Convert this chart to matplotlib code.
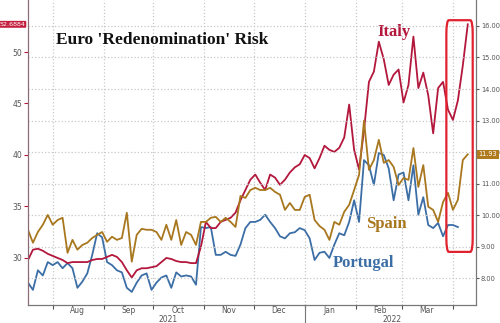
import pandas as pd
import matplotlib.pyplot as plt
import matplotlib.dates as mdates
from matplotlib.patches import FancyBboxPatch

dates = pd.date_range("2021-07-17", periods=90, freq="3D")

# left axis
italy = [29.8, 30.8, 30.9, 30.7, 30.4, 30.2, 30.0, 29.8, 29.5, 29.6,
         29.6, 29.6, 29.6, 29.8, 29.9, 29.9, 30.1, 30.3, 30.1, 29.6,
         28.8, 28.1, 28.8, 29.0, 29.0, 29.1, 29.2, 29.6, 30.0, 29.9,
         29.7, 29.6, 29.6, 29.5, 29.5, 31.1, 33.5, 32.9, 32.9, 33.5,
         33.7, 33.9, 34.4, 35.6, 36.6, 37.6, 38.1, 37.3, 36.6, 38.1,
         37.8, 37.1, 37.6, 38.3, 38.8, 39.1, 40.0, 39.7, 38.7, 39.7,
         40.9, 40.5, 40.3, 40.7, 41.7, 44.9, 40.5, 38.6, 42.4, 47.1,
         48.1, 51.0, 49.3, 46.8, 47.8, 48.3, 45.1, 46.8, 51.5, 46.5,
         48.0, 45.8, 42.1, 46.5, 47.1, 44.4, 43.4, 45.3, 48.7, 52.6884]

portugal = [27.6, 26.9, 28.8, 28.3, 29.6, 29.3, 29.6, 29.0, 29.5, 29.0,
            27.1, 27.7, 28.5, 30.3, 32.4, 32.0, 29.6, 29.3, 28.8, 28.6,
            27.1, 26.7, 27.6, 28.3, 28.5, 26.9, 27.6, 28.1, 28.3, 27.1,
            28.6, 28.2, 28.3, 28.2, 27.4, 33.0, 32.9, 33.0, 30.3, 30.3,
            30.6, 30.3, 30.2, 31.3, 32.9, 33.5, 33.5, 33.7, 34.2, 33.5,
            32.9, 32.1, 31.9, 32.4, 32.5, 32.9, 32.7, 31.9, 29.8, 30.5,
            30.6, 30.0, 31.3, 32.4, 32.2, 33.5, 35.6, 33.5, 39.5, 39.0,
            37.1, 40.2, 40.0, 38.7, 35.6, 38.1, 38.3, 35.6, 39.0, 34.2,
            35.9, 33.2, 32.9, 33.4, 32.1, 33.2, 33.2, 33.0, None, None]

# right axis
spain = [9.54, 9.13, 9.47, 9.70, 10.01, 9.70, 9.85, 9.92, 8.81, 9.22,
         8.91, 9.06, 9.13, 9.28, 9.38, 9.47, 9.16, 9.32, 9.22, 9.28,
         10.08, 8.53, 9.38, 9.57, 9.54, 9.54, 9.47, 9.22, 9.70, 9.22,
         9.85, 9.06, 9.47, 9.38, 9.06, 9.79, 9.79, 9.92, 9.95, 9.79,
         9.92, 9.79, 9.63, 10.61, 10.55, 10.80, 10.87, 10.80, 10.80, 10.87,
         10.74, 10.65, 10.17, 10.39, 10.17, 10.17, 10.58, 10.65, 9.85, 9.66,
         9.54, 9.22, 9.79, 9.70, 10.11, 10.33, 10.80, 11.28, 13.00, 11.44,
         11.75, 12.39, 11.66, 11.75, 11.53, 10.96, 11.18, 11.12, 12.13, 10.90,
         11.59, 10.27, 10.17, 9.79, 10.42, 10.71, 10.17, 10.49, 11.75, 11.93]

RED = "#B3173C"
GOLD = "#A8771E"
BLUE = "#3C6EA6"
GRID = "#C8C8C8"
TICK = "#555555"

fig = plt.figure(figsize=(5.0, 3.23), dpi=100)
ax = fig.add_axes([0.056, 0.056, 0.896, 0.944])
ax2 = ax.twinx()

ax.plot(dates, pd.Series(portugal, dtype=float), color=BLUE, lw=1.3, zorder=3)
ax.plot(dates, italy, color=RED, lw=1.3, zorder=4)
ax2.plot(dates, spain, color=GOLD, lw=1.3)

ax.set_ylim(25.44, 55.05)
ax2.set_ylim(7.16, 16.82)
ax.set_xlim(pd.Timestamp("2021-07-17"), pd.Timestamp("2022-04-15"))

ax.set_yticks([30, 35, 40, 45, 50])
ax2.set_yticks(range(8, 17))
ax2.set_yticklabels([f"{v:.2f}" for v in range(8, 17)])

ax.xaxis.set_major_locator(mdates.MonthLocator())
ax.xaxis.set_major_formatter(plt.NullFormatter())
ax.xaxis.set_minor_locator(mdates.MonthLocator(bymonth=[8, 9, 10, 11, 12, 1, 2, 3], bymonthday=16))
ax.xaxis.set_minor_formatter(mdates.DateFormatter("%b"))
ax.tick_params(axis="x", which="major", length=3, color=TICK)
ax.tick_params(axis="x", which="minor", length=0, labelsize=5.5, labelcolor=TICK, pad=1)
ax.tick_params(axis="y", length=3, color=RED, labelsize=5.5, labelcolor=TICK, pad=1)
ax2.tick_params(axis="y", length=2.5, color=TICK, labelsize=4.8, labelcolor=TICK, pad=1)

ax.grid(axis="x", which="major", color=GRID, ls=":", lw=0.9)
ax2.grid(axis="y", color=GRID, ls=":", lw=0.9)
ax.set_axisbelow(True)

for a in (ax, ax2):
    a.spines["top"].set_visible(False)
    a.spines["left"].set_color("#8C6C74")
    a.spines["right"].set_color("#777777")
    a.spines["bottom"].set_color("#777777")

# year labels
for yr, d in [("2021", "2021-10-10"), ("2022", "2022-02-23")]:
    ax.text(pd.Timestamp(d), -0.032, yr, transform=ax.get_xaxis_transform(),
            ha="center", va="top", fontsize=5.5, color=TICK, clip_on=False)
ax.plot([pd.Timestamp("2022-01-01")] * 2, [0, -0.06], transform=ax.get_xaxis_transform(),
        color="#777777", lw=0.8, clip_on=False)

# titles and series labels
ax.text(0.063, 0.855, "Euro 'Redenomination' Risk", transform=ax.transAxes,
        fontsize=12.5, fontweight="bold", family="Liberation Serif", color="#111111")
ax.text(pd.Timestamp("2022-02-14"), 51.9, "Italy", fontsize=12, fontweight="bold",
        family="Liberation Serif", color=RED, va="center")
ax2.text(pd.Timestamp("2022-02-07"), 9.73, "Spain", fontsize=12, fontweight="bold",
         family="Liberation Serif", color=GOLD, va="center")
ax.text(pd.Timestamp("2022-01-18"), 29.5, "Portugal", fontsize=12, fontweight="bold",
        family="Liberation Serif", color=BLUE, va="center")

# last value tags
ax.text(-0.006, italy[-1], f"{italy[-1]:.4f}", transform=ax.get_yaxis_transform(),
        ha="right", va="center", fontsize=4.6, color="white", clip_on=False,
        bbox=dict(boxstyle="round,pad=0.15", fc="#C41E3E", ec="none"))
ax2.text(1.006, spain[-1], f"{spain[-1]:.2f}", transform=ax2.get_yaxis_transform(),
         ha="left", va="center", fontsize=4.8, color="white", clip_on=False, zorder=10,
         bbox=dict(boxstyle="square,pad=0.2", fc="#B07A1E", ec="none"))

# highlight box
x0 = mdates.date2num(pd.Timestamp("2022-03-28"))
x1 = mdates.date2num(pd.Timestamp("2022-04-13"))
box = FancyBboxPatch((x0, 8.84), x1 - x0, 7.34, boxstyle="round,pad=0,rounding_size=1.5",
                     fc="none", ec="#E0222F", lw=1.6, mutation_aspect=0.3, zorder=6)
ax2.add_patch(box)

fig.savefig("out.png", dpi=100)
